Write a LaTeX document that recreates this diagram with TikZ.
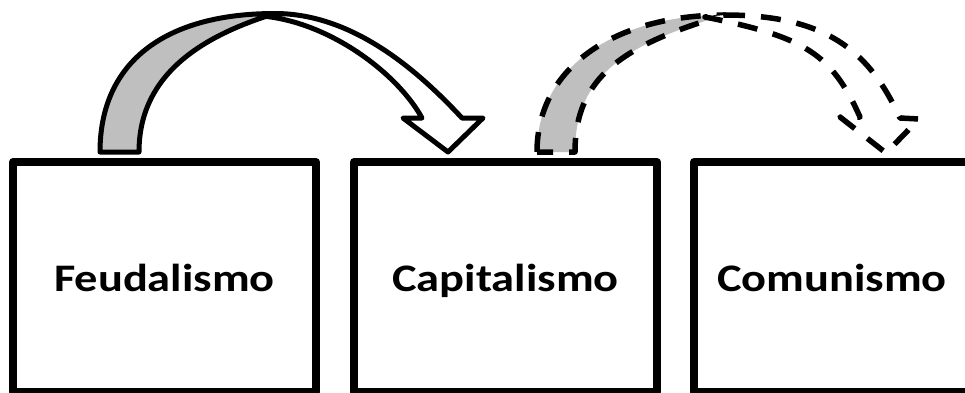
\documentclass[tikz,border=0pt]{standalone}
\usepackage{fontspec}
\newfontfamily\boxfont{Carlito}[FakeStretch=1.19]
\definecolor{ribbongray}{RGB}{191,191,191}
\tikzset{
  box/.style={draw=black, line width=8pt, fill=white, minimum height=230pt,
    text height=28pt, text depth=0pt, inner sep=0pt, line join=round,
    font=\boxfont\bfseries\fontsize{39}{47}\selectfont},
  ribbonline/.style={draw=black, line join=round},
  solidribbon/.style={ribbonline, line width=5pt},
  dashedribbon/.style={ribbonline, line width=5.5pt, dash pattern=on 20pt off 16pt},
}
\begin{document}
\begin{tikzpicture}[x=1pt,y=-1pt]
\useasboundingbox (0,0) rectangle (965,392);
\node[box, minimum width=303pt] (feud) at (164.5,277) {Feudalismo};
\node[box, minimum width=303pt] (capi) at (505.5,277) {Capitalismo};
\node[box, minimum width=276pt] (comu) at (832,277) {Comunismo};
% solid curved arrow
\path[solidribbon, fill=ribbongray]
  (100,152) .. controls (100,62) and (165,13.5) .. (275,13.5)
  .. controls (190,39.5) and (139,82) .. (139,152) -- cycle;
\path[solidribbon, fill=white]
  (275,13.5) .. controls (355,13.5) and (421,74) .. (462,118)
  -- (483,118) -- (448,152) -- (403,118) -- (422,118)
  .. controls (398,74) and (330,22) .. (262,16) -- cycle;
% dashed curved arrow
\path[dashedribbon, fill=ribbongray]
  (537,152) .. controls (537,67) and (615,15) .. (725,15)
  .. controls (623,44.5) and (575,77) .. (575,152) -- cycle;
\path[dashedribbon, fill=white]
  (725,15) .. controls (830,15) and (870.6,54.3) .. (900,118)
  -- (919,119) -- (886,153) -- (840,117) -- (860,117)
  .. controls (831.3,53.3) and (805,37) .. (705,17) -- cycle;
\end{tikzpicture}
\end{document}
